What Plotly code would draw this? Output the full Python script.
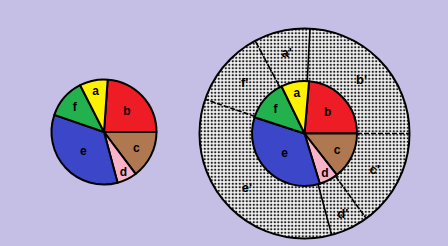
import numpy as np
import plotly.graph_objects as go

# ---- data ----
categories = ["b", "c", "d", "e", "f", "a"]
left_values = [86, 53, 22, 124, 44, 31]
inner_values = [85, 52, 21, 125, 46, 31]
ring_labels = ["b'", "c'", "d'", "e'", "f'", "a'"]
ring_values = [87, 54, 21, 124, 43, 31]

# ---- style ----
slice_colors = ["#ee1c24", "#b07850", "#f9b3c9", "#3c46c8", "#22b14c", "#fff200"]
boundary_dash = ["5px,2px", "6px,1px", "solid", "5px,2px", "8px,1px", "solid"]  # boundary after each ring slice
bg = "#c6bfe5"
W, H = 448, 246
font = dict(family="Liberation Sans, Arial, sans-serif", size=12, color="black", weight="bold")
ring_font = dict(family="Liberation Sans, Arial, sans-serif", size=13, color="black", weight="bold")

left_rot, inner_rot, ring_rot = 4, 5, 3

# geometry (pixels)
lc, lr = (104, 132), 52.5
rc, rr_out, rr_in = (304.5, 133.5), 105, 52.5


def dom(c, r):
    cx, cy = c
    return dict(x=[(cx - r) / W, (cx + r) / W],
                y=[(H - cy - r) / H, (H - cy + r) / H])


fig = go.Figure()

# outer stippled ring
fig.add_trace(go.Pie(
    labels=ring_labels, values=ring_values, sort=False, direction="clockwise",
    rotation=ring_rot, hole=rr_in / rr_out, domain=dom(rc, rr_out),
    textinfo="label", textposition="inside", insidetextorientation="horizontal",
    textfont=ring_font, insidetextfont=ring_font,
    marker=dict(colors=["white"] * len(ring_values),
                pattern=dict(shape=".", fgcolor="#1e1e1e", bgcolor="#f4f4f4",
                             size=3.5, solidity=0.35),
                line=dict(width=0)),
    showlegend=False, hoverinfo="skip"))

# left pie
fig.add_trace(go.Pie(
    labels=categories, values=left_values, sort=False, direction="clockwise",
    rotation=left_rot, domain=dom(lc, lr),
    textinfo="label", textposition="inside", insidetextorientation="horizontal",
    textfont=font, insidetextfont=font,
    marker=dict(colors=slice_colors, line=dict(color="black", width=2)),
    showlegend=False, hoverinfo="skip"))

# right inner pie
fig.add_trace(go.Pie(
    labels=categories, values=inner_values, sort=False, direction="clockwise",
    rotation=inner_rot, domain=dom(rc, rr_in),
    textinfo="label", textposition="inside", insidetextorientation="horizontal",
    textfont=font, insidetextfont=font,
    marker=dict(colors=slice_colors, line=dict(color="black", width=2)),
    showlegend=False, hoverinfo="skip"))

# ring boundaries (derived from ring values) and outer circle as shapes
tot = sum(ring_values)
bounds = np.radians(ring_rot + np.cumsum(ring_values) / tot * 360.0)
shapes = []
for ang, dsh in zip(bounds, boundary_dash):
    x0 = rc[0] + rr_in * np.sin(ang)
    y0 = rc[1] - rr_in * np.cos(ang)
    x1 = rc[0] + rr_out * np.sin(ang)
    y1 = rc[1] - rr_out * np.cos(ang)
    shapes.append(dict(type="line", xref="paper", yref="paper", layer="above",
                       x0=x0 / W, y0=1 - y0 / H, x1=x1 / W, y1=1 - y1 / H,
                       line=dict(color="black", width=1.6, dash=dsh)))
d = dom(rc, rr_out)
shapes.append(dict(type="circle", xref="paper", yref="paper", layer="above",
                   x0=d["x"][0], x1=d["x"][1], y0=d["y"][0], y1=d["y"][1],
                   line=dict(color="black", width=2)))

fig.update_layout(
    width=W, height=H, margin=dict(l=0, r=0, t=0, b=0),
    paper_bgcolor=bg, plot_bgcolor=bg, shapes=shapes,
)

fig.write_html("out.html")
